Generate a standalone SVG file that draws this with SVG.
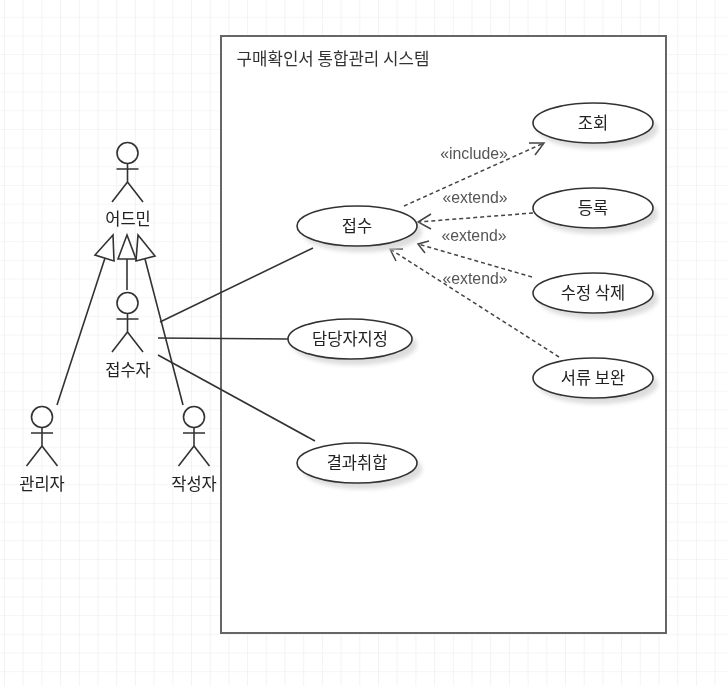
<svg xmlns="http://www.w3.org/2000/svg" width="727" height="686" viewBox="0 0 727 686">
<style>
text{font-family:"Noto Sans CJK KR","Liberation Sans",sans-serif;fill:#222;text-anchor:middle;font-size:16.500px}
text.st{font-family:"Liberation Sans","Noto Sans CJK KR",sans-serif;fill:#555;font-size:15.800px}
text.title{fill:#333;font-size:16.800px}
.uc{fill:#fff;stroke:#333;stroke-width:1.6}
.sh{fill:#ddd;filter:url(#b)}
.ln{stroke:#333;stroke-width:1.6;fill:none}
.da{stroke:#444;stroke-width:1.5;fill:none;stroke-dasharray:4 3}
.ah{stroke:#444;stroke-width:1.5;fill:none}
.tri{fill:#fff;stroke:#333;stroke-width:1.6}
.head{fill:#fff;stroke:#333;stroke-width:1.6}
</style>
<defs>
<pattern id="g" width="18.7" height="18.7" patternUnits="userSpaceOnUse" x="4" y="-2">
<path d="M0 0H18.7M0 0V18.7" fill="none" stroke="#ececec" stroke-width="1.2"/>
</pattern>
<filter id="b" x="-20%" y="-40%" width="140%" height="180%"><feGaussianBlur stdDeviation="2"/></filter>
<filter id="s" filterUnits="userSpaceOnUse" x="0" y="0" width="727" height="686"><feGaussianBlur stdDeviation="0.45"/></filter>
<g id="actor">
<circle class="head" cx="0" cy="0" r="10.500"/>
<path class="ln" d="M-11 16H11M0 10.500V29M0 29L-15.500 49M0 29L15.500 49"/>
</g>
</defs>
<rect width="727" height="686" fill="#fff"/>
<rect width="727" height="686" fill="url(#g)"/>
<g filter="url(#s)">
<g id="system">
<rect x="221" y="36" width="445" height="597" fill="#fff" stroke="#666" stroke-width="2"/>
<text class="title" x="333" y="65">구매확인서 통합관리 시스템</text>
</g>
<g id="connectors">
<path class="ln" d="M57 405L105 258M127 259V290M183 405L145 259"/>
<path class="ln" d="M160 322L313 248M158 338L288 339M158 355L315 441"/>
<path class="da" d="M404 206L544 143M533 213L418 222M532 277L418 244M559 357L390 249"/>
<path class="ah" d="M529 143L544 143L535 155M431 214L418 222L431 229M429 241L418 244L425 253M403 249L390 249L396 261"/>
<text class="st" x="474" y="159">«include»</text>
<text class="st" x="475" y="203">«extend»</text>
<text class="st" x="474" y="241">«extend»</text>
<text class="st" x="475" y="284">«extend»</text>
</g>
<g id="admin"><use href="#actor" x="127.500" y="153"/><text x="128" y="225">어드민</text></g>
<g id="receptionist"><use href="#actor" x="127.500" y="303"/><text x="128" y="376">접수자</text></g>
<g id="manager"><use href="#actor" x="42" y="417"/><text x="42" y="490">관리자</text></g>
<g id="author"><use href="#actor" x="194" y="417"/><text x="194" y="490">작성자</text></g>
<g id="arrowheads">
<path class="tri" d="M113 235L95 255L114 261Z"/>
<path class="tri" d="M127 235L118 259H136Z"/>
<path class="tri" d="M138 235L155 256L136 261Z"/>
</g>
<g id="uc-jeopsu"><ellipse class="sh" cx="362" cy="232" rx="60" ry="20"/><ellipse class="uc" cx="357" cy="226" rx="60" ry="20"/><text x="357" y="232">접수</text></g>
<g id="uc-assign"><ellipse class="sh" cx="355" cy="345" rx="62" ry="20"/><ellipse class="uc" cx="350" cy="339" rx="62" ry="20"/><text x="350" y="345">담당자지정</text></g>
<g id="uc-result"><ellipse class="sh" cx="362" cy="469" rx="60" ry="20"/><ellipse class="uc" cx="357" cy="463" rx="60" ry="20"/><text x="357" y="469">결과취합</text></g>
<g id="uc-view"><ellipse class="sh" cx="598" cy="129" rx="60" ry="20"/><ellipse class="uc" cx="593" cy="123" rx="60" ry="20"/><text x="593" y="129">조회</text></g>
<g id="uc-register"><ellipse class="sh" cx="598" cy="214" rx="60" ry="20"/><ellipse class="uc" cx="593" cy="208" rx="60" ry="20"/><text x="593" y="214">등록</text></g>
<g id="uc-edit"><ellipse class="sh" cx="598" cy="299" rx="60" ry="20"/><ellipse class="uc" cx="593" cy="293" rx="60" ry="20"/><text x="593" y="299">수정 삭제</text></g>
<g id="uc-supplement"><ellipse class="sh" cx="598" cy="384" rx="60" ry="20"/><ellipse class="uc" cx="593" cy="378" rx="60" ry="20"/><text x="593" y="384">서류 보완</text></g>
</g>
</svg>
